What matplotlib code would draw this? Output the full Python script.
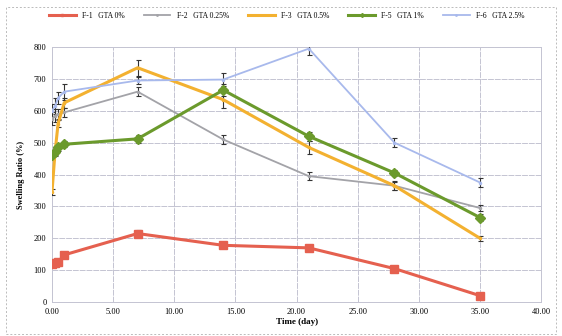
import matplotlib.pyplot as plt
from matplotlib.lines import Line2D
from matplotlib.patches import Rectangle

plt.rcParams['font.family'] = ['Liberation Serif', 'DejaVu Serif']

# sampling times (day)
time = [0, 0.25, 0.5, 1, 7, 14, 21, 28, 35]

labels = ["F-1   GTA 0%", "F-2   GTA 0.25%", "F-3   GTA 0.5%", "F-5   GTA 1%", "F-6   GTA 2.5%"]

f1 = [120, 122, 125, 148, 215, 178, 170, 105, 20]
f2 = [575, 585, 590, 595, 660, 510, 395, 365, 295]
f3 = [345, 470, 560, 625, 735, 635, 485, 365, 200]
f5 = [460, 470, 485, 495, 512, 665, 520, 405, 265]
f6 = [600, 615, 640, 660, 695, 698, 795, 500, 375]

f1_err = [8, 8, 8, 10, 10, 8, 8, 6, 6]
f2_err = [20, 20, 15, 15, 15, 15, 12, 12, 8]
f3_err = [10, 10, 10, 15, 25, 25, 20, 15, 8]
f5_err = [15, 12, 10, 10, 12, 20, 15, 10, 10]
f6_err = [20, 25, 20, 25, 12, 20, 20, 15, 15]

series = [f1, f2, f3, f5, f6]
errors = [f1_err, f2_err, f3_err, f5_err, f6_err]
colors = ['#e5604f', '#a3a3a8', '#f3b130', '#6b9a2c', '#a8b9ec']
markers = ['s', '.', '.', 'D', '.']
msizes = [6, 3, 3, 5, 3]
widths = [2.2, 1.3, 2.2, 2.2, 1.3]

fig = plt.figure(figsize=(5.62, 3.36), dpi=100)
ax = fig.add_axes([0.0925, 0.101, 0.8705, 0.759])

handles = []
for y, e, c, m, ms, lw, lab in zip(series, errors, colors, markers, msizes, widths, labels):
    ax.errorbar(time, y, yerr=e, color=c, marker=m, markersize=ms, linewidth=lw,
                ecolor='#333333', elinewidth=0.8, capsize=1.8, capthick=0.8, zorder=3)
    handles.append(Line2D([], [], color=c, linewidth=lw, marker=m, markersize=2, label=lab))

ax.set_xlim(0, 40)
ax.set_ylim(0, 800)
ax.set_xticks(range(0, 41, 5))
ax.set_xticklabels([f"{v:.2f}" for v in range(0, 41, 5)], fontsize=6)
ax.set_yticks(range(0, 801, 100))
ax.set_yticklabels([str(v) for v in range(0, 801, 100)], fontsize=6)
ax.tick_params(length=0, pad=4)
ax.grid(True, color='#c4c4d2', linewidth=0.7, linestyle=(0, (6, 1)))
for s in ax.spines.values():
    s.set_color('#c4c4d2')
    s.set_linewidth(0.7)
ax.set_xlabel("Time (day)", fontsize=6.5, fontweight='bold', labelpad=2)
ax.set_ylabel("Swelling Ratio (%)", fontsize=6, fontweight='bold', labelpad=6)

fig.legend(handles=handles, loc='upper center', bbox_to_anchor=(0.51, 0.985), ncol=5, frameon=False,
           fontsize=5.5, handlelength=3.5, columnspacing=2.5)

fig.patches.append(Rectangle((0.01, 0.005), 0.98, 0.975, transform=fig.transFigure,
                             fill=False, edgecolor='#bbbbbb', linewidth=0.7, linestyle=(0, (2, 2))))

fig.savefig("out.png", dpi=100)
